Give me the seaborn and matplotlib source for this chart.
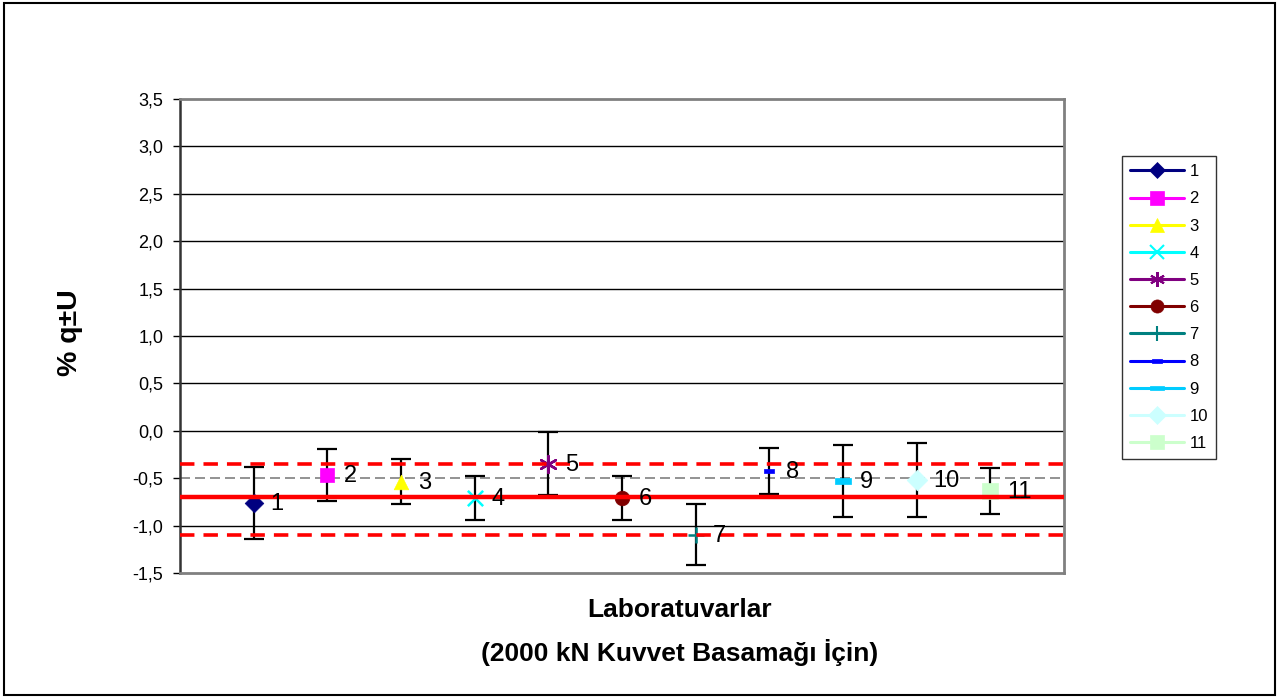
import matplotlib
matplotlib.use("Agg")
import matplotlib.pyplot as plt
import seaborn as sns
import numpy as np
import pandas as pd
from matplotlib.lines import Line2D
from matplotlib.path import Path
from matplotlib.patches import Rectangle

# ---- data ----
labs = ["1", "2", "3", "4", "5", "6", "7", "8", "9", "10", "11"]
values = [-0.76, -0.47, -0.535, -0.71, -0.345, -0.71, -1.095, -0.425, -0.53, -0.52, -0.635]
uncert = [0.38, 0.275, 0.235, 0.235, 0.335, 0.23, 0.32, 0.245, 0.38, 0.39, 0.245]
ref_value = -0.7
ref_upper = -0.35
ref_lower = -1.1
ytick_vals = [-1.5, -1.0, -0.5, 0.0, 0.5, 1.0, 1.5, 2.0, 2.5, 3.0, 3.5]
ytick_labels = ["-1,5", "-1,0", "-0,5", "0,0", "0,5", "1,0", "1,5", "2,0", "2,5", "3,0", "3,5"]
grid_vals = [-1.0, 0.0, 0.5, 1.0, 1.5, 2.0, 2.5, 3.0]
ylabel = "% q±U"
xlabel_1 = "Laboratuvarlar"
xlabel_2 = "(2000 kN Kuvvet Basamağı İçin)"

colors = ["#000080", "#FF00FF", "#FFFF00", "#00FFFF", "#800080", "#800000",
          "#008080", "#0000FF", "#00CCFF", "#CCFFFF", "#CCFFCC"]
bar8 = Path([(-1, -0.35), (1, -0.35), (1, 0.35), (-1, 0.35), (-1, -0.35)],
            [Path.MOVETO, Path.LINETO, Path.LINETO, Path.LINETO, Path.CLOSEPOLY])
markers = ["D", "s", "^", "x", (6, 2, 0), "o", "+", bar8, bar8, "D", "s"]
msizes = [9.5, 10.5, 10.5, 11, 12, 10.5, 12, 7.5, 11, 10.5, 11.5]

df = pd.DataFrame({"lab": labs, "x": np.arange(1, len(labs) + 1), "v": values, "u": uncert})

sns.set_theme(style="white")
plt.rcParams["font.family"] = ["Liberation Sans", "DejaVu Sans"]
plt.rcParams["text.color"] = "black"

fig = plt.figure(figsize=(12.78, 6.98), dpi=100)
ax = fig.add_axes([180 / 1278, 125 / 698, (1064 - 180) / 1278, (573 - 99) / 698])

# gridlines
for g in grid_vals:
    ax.axhline(g, color="black", lw=1.0, zorder=1)
ax.axhline(-0.5, color="#808080", lw=1.2, ls=(0, (6, 3)), zorder=1)

# error bars
ax.errorbar(df["x"], df["v"], yerr=df["u"], fmt="none", ecolor="black",
            elinewidth=1.6, capsize=7, capthick=1.6, zorder=2)

# points
for i, row in df.iterrows():
    m = markers[i]
    filled = m not in ("x", "+", (6, 2, 0))
    if filled:
        sns.scatterplot(x=[row["x"]], y=[row["v"]], marker=m, color=colors[i],
                        s=msizes[i] ** 2, edgecolor=colors[i], linewidth=0.5,
                        ax=ax, zorder=3, legend=False)
    else:
        sns.scatterplot(x=[row["x"]], y=[row["v"]], marker=m, color=colors[i],
                        s=msizes[i] ** 2, linewidth=1.8, ax=ax, zorder=3, legend=False)
    ax.annotate(row["lab"], (row["x"], row["v"]), xytext=(17, -1),
                textcoords="offset pixels", ha="left", va="center",
                fontsize=17, color="black", zorder=5)

# reference lines
ax.axhline(ref_value, color="#FF0000", lw=3.2, zorder=4)
ax.axhline(ref_upper, color="#FF0000", lw=2.6, ls=(0, (4, 2.5)), zorder=4)
ax.axhline(ref_lower, color="#FF0000", lw=2.6, ls=(0, (4, 2.5)), zorder=4)

ax.set_xlim(0, 12)
ax.set_ylim(-1.5, 3.5)
ax.set_xticks([])
ax.set_yticks(ytick_vals)
ax.set_yticklabels(ytick_labels)
ax.tick_params(axis="y", left=True, length=5, width=1, pad=7, labelsize=13,
               colors="black", direction="out")
ax.set_xlabel("")
ax.set_ylabel("")
for s in ["top", "right", "bottom"]:
    ax.spines[s].set_color("#808080")
    ax.spines[s].set_linewidth(2)
ax.spines["left"].set_color("#333333")
ax.spines["left"].set_linewidth(1.8)

# axis labels
fig.text(70 / 1278, (698 - 333) / 698, ylabel, rotation=90, ha="center", va="center",
         fontsize=20.5, fontweight="bold", color="black")
fig.text(680 / 1278, (698 - 610) / 698, xlabel_1, ha="center", va="center",
         fontsize=19, fontweight="bold", color="black")
fig.text(680 / 1278, (698 - 652) / 698, xlabel_2, ha="center", va="center",
         fontsize=19, fontweight="bold", color="black")

# legend
handles = []
for i, lab in enumerate(labs):
    m = markers[i]
    filled = m not in ("x", "+", (6, 2, 0))
    handles.append(Line2D([0], [0], color=colors[i], lw=2.2, marker=m,
                          markersize=msizes[i] * 0.9, markerfacecolor=colors[i],
                          markeredgecolor=colors[i], markeredgewidth=1.5 if not filled else 0.5))
leg = fig.legend(handles, labs, loc="upper left",
                 bbox_to_anchor=(1122 / 1278, (698 - 156) / 698),
                 frameon=True, fancybox=False, edgecolor="black", fontsize=12,
                 handlelength=3.2, handletextpad=0.35, labelspacing=0.73,
                 borderpad=0.5, borderaxespad=0)
leg.get_frame().set_linewidth(1.0)
for t in leg.get_texts():
    t.set_color("black")

# outer border
fig.patches.append(Rectangle((4 / 1278, 3 / 698), 1271 / 1278, 692 / 698,
                             transform=fig.transFigure, fill=False,
                             edgecolor="black", lw=1.5))

fig.savefig("out.png", dpi=100)
